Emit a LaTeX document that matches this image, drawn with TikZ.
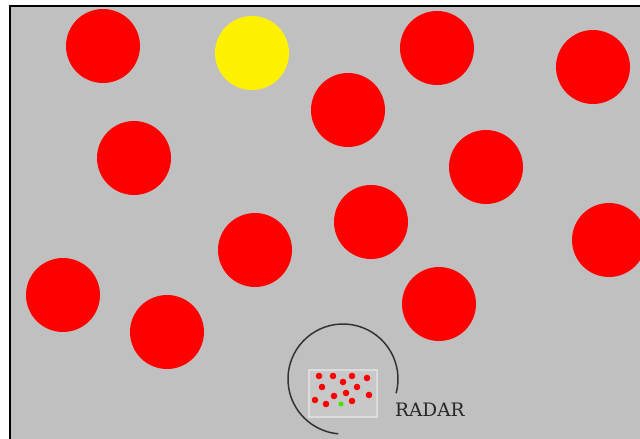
\documentclass[tikz,border=0pt]{standalone}
\usepackage{fontspec}
\newfontfamily\radarfont{DejaVu Serif}
\definecolor{field}{RGB}{192,192,192}
\definecolor{minimap}{RGB}{200,200,200}
\begin{document}
\begin{tikzpicture}[x=1pt,y=-1pt,
    ball/.style={fill=red},
    dot/.style={fill=red}]
      \useasboundingbox (0,0) rectangle (640,439);
      % playing field
      \fill[field] (10,6) rectangle (640,439);
      \draw[line width=2pt] (10,439) -- (10,6) -- (640,6);
      % balls on the field
      \fill[ball] (103,46) circle (37);
      \fill[yellow] (252,53) circle (37);
      \fill[ball] (437,48) circle (37);
      \fill[ball] (593,67) circle (37);
      \fill[ball] (348,110) circle (37);
      \fill[ball] (134,158) circle (37);
      \fill[ball] (486,167) circle (37);
      \fill[ball] (255,250) circle (37);
      \fill[ball] (371,222) circle (37);
      \fill[ball] (609,240) circle (37);
      \fill[ball] (63,295) circle (37);
      \fill[ball] (167,332) circle (37);
      \fill[ball] (439,304) circle (37);
      % radar sweep (y axis points down, so angles run clockwise)
      \draw[line width=1.5pt, color=black!80] (343,379) ++(15:55) arc[start angle=15, end angle=-265, radius=55];
      \draw[fill=minimap, draw=white!45!field, line width=1.2pt] (309,370) rectangle (377,417);
      \foreach \p in {(319,376),(333,376),(352,376),(367,378),(322,387),(343,382),(357,387),
                      (334,396),(346,393),(369,395),(315,400),(326,404),(352,401)}
        \fill[dot] \p circle (3.3);
      \fill[green!80!black!60!lime] (341,404) circle (2.5);
      \node[anchor=base west, inner sep=0pt, text=black!85, font=\radarfont\fontsize{18.5}{18.5}\selectfont] (radar) at (395,416) {RADAR};
    \end{tikzpicture}
\end{document}
